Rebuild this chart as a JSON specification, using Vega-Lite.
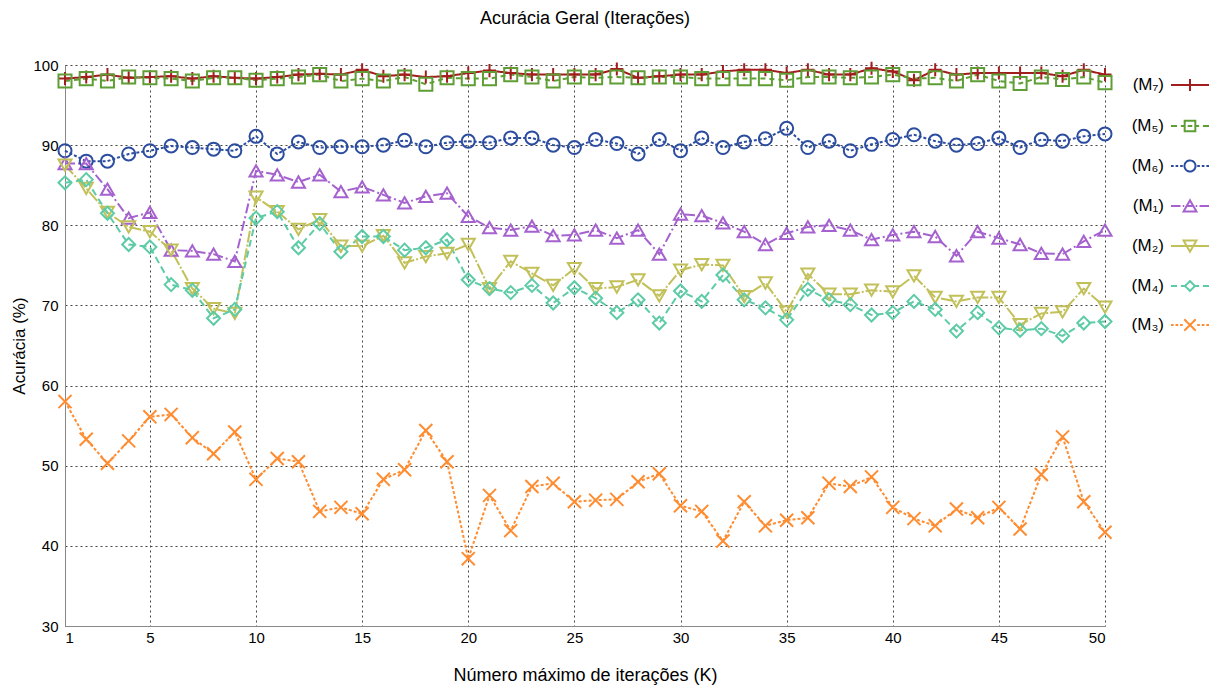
{
  "$schema": "https://vega.github.io/schema/vega-lite/v6.json",
  "width": 1040,
  "height": 561,
  "autosize": {"type": "none"},
  "padding": {"left": 65, "top": 65, "right": 110, "bottom": 60},
  "background": "white",
  "title": {"text": "Acurácia Geral (Iterações)", "font": "Liberation Sans", "fontSize": 18, "fontWeight": "normal", "color": "#000", "offset": 30, "anchor": "middle"},
  "config": {
    "view": {"stroke": null},
    "axis": {"labelFont": "Liberation Sans", "labelFontSize": 15, "labelColor": "#000", "titleFont": "Liberation Sans", "titleFontSize": 18, "titleFontWeight": "normal", "titleColor": "#000", "grid": true, "gridColor": "#444", "gridDash": [2, 3], "gridWidth": 1, "domainColor": "#888", "domainWidth": 1, "ticks": false}
  },
  "data": {"values": [
    {"k":1,"m":"M₇","a":98.3},{"k":2,"m":"M₇","a":98.5},{"k":3,"m":"M₇","a":98.8},{"k":4,"m":"M₇","a":98.4},{"k":5,"m":"M₇","a":98.5},{"k":6,"m":"M₇","a":98.6},{"k":7,"m":"M₇","a":98.3},{"k":8,"m":"M₇","a":98.6},{"k":9,"m":"M₇","a":98.4},{"k":10,"m":"M₇","a":98.3},
    {"k":11,"m":"M₇","a":98.5},{"k":12,"m":"M₇","a":98.8},{"k":13,"m":"M₇","a":98.9},{"k":14,"m":"M₇","a":98.8},{"k":15,"m":"M₇","a":99.4},{"k":16,"m":"M₇","a":98.6},{"k":17,"m":"M₇","a":98.8},{"k":18,"m":"M₇","a":98.5},{"k":19,"m":"M₇","a":98.6},{"k":20,"m":"M₇","a":99.0},
    {"k":21,"m":"M₇","a":99.3},{"k":22,"m":"M₇","a":99.0},{"k":23,"m":"M₇","a":98.8},{"k":24,"m":"M₇","a":98.8},{"k":25,"m":"M₇","a":98.8},{"k":26,"m":"M₇","a":98.8},{"k":27,"m":"M₇","a":99.5},{"k":28,"m":"M₇","a":98.4},{"k":29,"m":"M₇","a":98.6},{"k":30,"m":"M₇","a":98.8},
    {"k":31,"m":"M₇","a":98.8},{"k":32,"m":"M₇","a":99.2},{"k":33,"m":"M₇","a":99.4},{"k":34,"m":"M₇","a":99.4},{"k":35,"m":"M₇","a":99.0},{"k":36,"m":"M₇","a":99.4},{"k":37,"m":"M₇","a":98.8},{"k":38,"m":"M₇","a":98.8},{"k":39,"m":"M₇","a":99.6},{"k":40,"m":"M₇","a":99.2},
    {"k":41,"m":"M₇","a":98.1},{"k":42,"m":"M₇","a":99.4},{"k":43,"m":"M₇","a":98.8},{"k":44,"m":"M₇","a":99.0},{"k":45,"m":"M₇","a":99.0},{"k":46,"m":"M₇","a":99.0},{"k":47,"m":"M₇","a":99.0},{"k":48,"m":"M₇","a":98.6},{"k":49,"m":"M₇","a":99.4},{"k":50,"m":"M₇","a":98.8},
    {"k":1,"m":"M₅","a":98.0},{"k":2,"m":"M₅","a":98.3},{"k":3,"m":"M₅","a":98.0},{"k":4,"m":"M₅","a":98.5},{"k":5,"m":"M₅","a":98.4},{"k":6,"m":"M₅","a":98.3},{"k":7,"m":"M₅","a":98.0},{"k":8,"m":"M₅","a":98.4},{"k":9,"m":"M₅","a":98.4},{"k":10,"m":"M₅","a":98.1},
    {"k":11,"m":"M₅","a":98.3},{"k":12,"m":"M₅","a":98.5},{"k":13,"m":"M₅","a":98.8},{"k":14,"m":"M₅","a":98.0},{"k":15,"m":"M₅","a":98.3},{"k":16,"m":"M₅","a":98.0},{"k":17,"m":"M₅","a":98.5},{"k":18,"m":"M₅","a":97.6},{"k":19,"m":"M₅","a":98.4},{"k":20,"m":"M₅","a":98.3},
    {"k":21,"m":"M₅","a":98.3},{"k":22,"m":"M₅","a":98.8},{"k":23,"m":"M₅","a":98.5},{"k":24,"m":"M₅","a":98.0},{"k":25,"m":"M₅","a":98.5},{"k":26,"m":"M₅","a":98.4},{"k":27,"m":"M₅","a":98.5},{"k":28,"m":"M₅","a":98.4},{"k":29,"m":"M₅","a":98.5},{"k":30,"m":"M₅","a":98.5},
    {"k":31,"m":"M₅","a":98.3},{"k":32,"m":"M₅","a":98.3},{"k":33,"m":"M₅","a":98.3},{"k":34,"m":"M₅","a":98.3},{"k":35,"m":"M₅","a":98.1},{"k":36,"m":"M₅","a":98.5},{"k":37,"m":"M₅","a":98.5},{"k":38,"m":"M₅","a":98.4},{"k":39,"m":"M₅","a":98.5},{"k":40,"m":"M₅","a":98.8},
    {"k":41,"m":"M₅","a":98.3},{"k":42,"m":"M₅","a":98.4},{"k":43,"m":"M₅","a":98.0},{"k":44,"m":"M₅","a":98.8},{"k":45,"m":"M₅","a":98.0},{"k":46,"m":"M₅","a":97.7},{"k":47,"m":"M₅","a":98.5},{"k":48,"m":"M₅","a":98.2},{"k":49,"m":"M₅","a":98.5},{"k":50,"m":"M₅","a":97.8},
    {"k":1,"m":"M₆","a":89.3},{"k":2,"m":"M₆","a":88.0},{"k":3,"m":"M₆","a":88.0},{"k":4,"m":"M₆","a":88.9},{"k":5,"m":"M₆","a":89.3},{"k":6,"m":"M₆","a":89.9},{"k":7,"m":"M₆","a":89.7},{"k":8,"m":"M₆","a":89.5},{"k":9,"m":"M₆","a":89.3},{"k":10,"m":"M₆","a":91.1},
    {"k":11,"m":"M₆","a":88.9},{"k":12,"m":"M₆","a":90.4},{"k":13,"m":"M₆","a":89.7},{"k":14,"m":"M₆","a":89.8},{"k":15,"m":"M₆","a":89.8},{"k":16,"m":"M₆","a":90.0},{"k":17,"m":"M₆","a":90.6},{"k":18,"m":"M₆","a":89.8},{"k":19,"m":"M₆","a":90.3},{"k":20,"m":"M₆","a":90.5},
    {"k":21,"m":"M₆","a":90.3},{"k":22,"m":"M₆","a":90.9},{"k":23,"m":"M₆","a":90.9},{"k":24,"m":"M₆","a":90.0},{"k":25,"m":"M₆","a":89.7},{"k":26,"m":"M₆","a":90.7},{"k":27,"m":"M₆","a":90.2},{"k":28,"m":"M₆","a":88.9},{"k":29,"m":"M₆","a":90.7},{"k":30,"m":"M₆","a":89.3},
    {"k":31,"m":"M₆","a":90.9},{"k":32,"m":"M₆","a":89.7},{"k":33,"m":"M₆","a":90.4},{"k":34,"m":"M₆","a":90.8},{"k":35,"m":"M₆","a":92.1},{"k":36,"m":"M₆","a":89.7},{"k":37,"m":"M₆","a":90.5},{"k":38,"m":"M₆","a":89.3},{"k":39,"m":"M₆","a":90.1},{"k":40,"m":"M₆","a":90.7},
    {"k":41,"m":"M₆","a":91.3},{"k":42,"m":"M₆","a":90.5},{"k":43,"m":"M₆","a":90.0},{"k":44,"m":"M₆","a":90.2},{"k":45,"m":"M₆","a":90.9},{"k":46,"m":"M₆","a":89.7},{"k":47,"m":"M₆","a":90.7},{"k":48,"m":"M₆","a":90.5},{"k":49,"m":"M₆","a":91.1},{"k":50,"m":"M₆","a":91.4},
    {"k":1,"m":"M₁","a":87.7},{"k":2,"m":"M₁","a":87.7},{"k":3,"m":"M₁","a":84.5},{"k":4,"m":"M₁","a":80.9},{"k":5,"m":"M₁","a":81.6},{"k":6,"m":"M₁","a":76.9},{"k":7,"m":"M₁","a":76.8},{"k":8,"m":"M₁","a":76.4},{"k":9,"m":"M₁","a":75.5},{"k":10,"m":"M₁","a":86.8},
    {"k":11,"m":"M₁","a":86.3},{"k":12,"m":"M₁","a":85.4},{"k":13,"m":"M₁","a":86.3},{"k":14,"m":"M₁","a":84.2},{"k":15,"m":"M₁","a":84.8},{"k":16,"m":"M₁","a":83.8},{"k":17,"m":"M₁","a":82.8},{"k":18,"m":"M₁","a":83.6},{"k":19,"m":"M₁","a":84.0},{"k":20,"m":"M₁","a":81.1},
    {"k":21,"m":"M₁","a":79.7},{"k":22,"m":"M₁","a":79.4},{"k":23,"m":"M₁","a":79.9},{"k":24,"m":"M₁","a":78.7},{"k":25,"m":"M₁","a":78.8},{"k":26,"m":"M₁","a":79.4},{"k":27,"m":"M₁","a":78.4},{"k":28,"m":"M₁","a":79.4},{"k":29,"m":"M₁","a":76.4},{"k":30,"m":"M₁","a":81.4},
    {"k":31,"m":"M₁","a":81.2},{"k":32,"m":"M₁","a":80.3},{"k":33,"m":"M₁","a":79.2},{"k":34,"m":"M₁","a":77.6},{"k":35,"m":"M₁","a":79.0},{"k":36,"m":"M₁","a":79.8},{"k":37,"m":"M₁","a":80.0},{"k":38,"m":"M₁","a":79.4},{"k":39,"m":"M₁","a":78.2},{"k":40,"m":"M₁","a":78.8},
    {"k":41,"m":"M₁","a":79.2},{"k":42,"m":"M₁","a":78.6},{"k":43,"m":"M₁","a":76.2},{"k":44,"m":"M₁","a":79.2},{"k":45,"m":"M₁","a":78.4},{"k":46,"m":"M₁","a":77.6},{"k":47,"m":"M₁","a":76.5},{"k":48,"m":"M₁","a":76.4},{"k":49,"m":"M₁","a":78.0},{"k":50,"m":"M₁","a":79.4},
    {"k":1,"m":"M₂","a":87.5},{"k":2,"m":"M₂","a":84.6},{"k":3,"m":"M₂","a":81.6},{"k":4,"m":"M₂","a":79.8},{"k":5,"m":"M₂","a":79.2},{"k":6,"m":"M₂","a":76.9},{"k":7,"m":"M₂","a":72.1},{"k":8,"m":"M₂","a":69.6},{"k":9,"m":"M₂","a":69.0},{"k":10,"m":"M₂","a":83.5},
    {"k":11,"m":"M₂","a":81.7},{"k":12,"m":"M₂","a":79.5},{"k":13,"m":"M₂","a":80.7},{"k":14,"m":"M₂","a":77.4},{"k":15,"m":"M₂","a":77.4},{"k":16,"m":"M₂","a":78.7},{"k":17,"m":"M₂","a":75.3},{"k":18,"m":"M₂","a":76.1},{"k":19,"m":"M₂","a":76.5},{"k":20,"m":"M₂","a":77.6},
    {"k":21,"m":"M₂","a":72.1},{"k":22,"m":"M₂","a":75.5},{"k":23,"m":"M₂","a":74.0},{"k":24,"m":"M₂","a":72.5},{"k":25,"m":"M₂","a":74.6},{"k":26,"m":"M₂","a":72.1},{"k":27,"m":"M₂","a":72.3},{"k":28,"m":"M₂","a":73.2},{"k":29,"m":"M₂","a":71.2},{"k":30,"m":"M₂","a":74.4},
    {"k":31,"m":"M₂","a":75.1},{"k":32,"m":"M₂","a":75.0},{"k":33,"m":"M₂","a":71.1},{"k":34,"m":"M₂","a":72.8},{"k":35,"m":"M₂","a":69.2},{"k":36,"m":"M₂","a":73.9},{"k":37,"m":"M₂","a":71.4},{"k":38,"m":"M₂","a":71.4},{"k":39,"m":"M₂","a":71.9},{"k":40,"m":"M₂","a":71.7},
    {"k":41,"m":"M₂","a":73.7},{"k":42,"m":"M₂","a":71.0},{"k":43,"m":"M₂","a":70.5},{"k":44,"m":"M₂","a":71.0},{"k":45,"m":"M₂","a":71.0},{"k":46,"m":"M₂","a":67.6},{"k":47,"m":"M₂","a":69.0},{"k":48,"m":"M₂","a":69.2},{"k":49,"m":"M₂","a":72.1},{"k":50,"m":"M₂","a":69.8},
    {"k":1,"m":"M₄","a":85.3},{"k":2,"m":"M₄","a":85.7},{"k":3,"m":"M₄","a":81.5},{"k":4,"m":"M₄","a":77.6},{"k":5,"m":"M₄","a":77.3},{"k":6,"m":"M₄","a":72.6},{"k":7,"m":"M₄","a":71.9},{"k":8,"m":"M₄","a":68.4},{"k":9,"m":"M₄","a":69.5},{"k":10,"m":"M₄","a":80.9},
    {"k":11,"m":"M₄","a":81.7},{"k":12,"m":"M₄","a":77.2},{"k":13,"m":"M₄","a":80.2},{"k":14,"m":"M₄","a":76.7},{"k":15,"m":"M₄","a":78.6},{"k":16,"m":"M₄","a":78.6},{"k":17,"m":"M₄","a":76.9},{"k":18,"m":"M₄","a":77.2},{"k":19,"m":"M₄","a":78.2},{"k":20,"m":"M₄","a":73.2},
    {"k":21,"m":"M₄","a":72.1},{"k":22,"m":"M₄","a":71.6},{"k":23,"m":"M₄","a":72.5},{"k":24,"m":"M₄","a":70.3},{"k":25,"m":"M₄","a":72.2},{"k":26,"m":"M₄","a":70.9},{"k":27,"m":"M₄","a":69.1},{"k":28,"m":"M₄","a":70.7},{"k":29,"m":"M₄","a":67.8},{"k":30,"m":"M₄","a":71.8},
    {"k":31,"m":"M₄","a":70.5},{"k":32,"m":"M₄","a":73.8},{"k":33,"m":"M₄","a":70.7},{"k":34,"m":"M₄","a":69.7},{"k":35,"m":"M₄","a":68.2},{"k":36,"m":"M₄","a":72.0},{"k":37,"m":"M₄","a":70.7},{"k":38,"m":"M₄","a":70.1},{"k":39,"m":"M₄","a":68.8},{"k":40,"m":"M₄","a":69.1},
    {"k":41,"m":"M₄","a":70.5},{"k":42,"m":"M₄","a":69.5},{"k":43,"m":"M₄","a":66.8},{"k":44,"m":"M₄","a":69.1},{"k":45,"m":"M₄","a":67.2},{"k":46,"m":"M₄","a":66.9},{"k":47,"m":"M₄","a":67.1},{"k":48,"m":"M₄","a":66.2},{"k":49,"m":"M₄","a":67.8},{"k":50,"m":"M₄","a":68.0},
    {"k":1,"m":"M₃","a":58.0},{"k":2,"m":"M₃","a":53.3},{"k":3,"m":"M₃","a":50.3},{"k":4,"m":"M₃","a":53.1},{"k":5,"m":"M₃","a":56.1},{"k":6,"m":"M₃","a":56.4},{"k":7,"m":"M₃","a":53.5},{"k":8,"m":"M₃","a":51.5},{"k":9,"m":"M₃","a":54.2},{"k":10,"m":"M₃","a":48.3},
    {"k":11,"m":"M₃","a":50.9},{"k":12,"m":"M₃","a":50.5},{"k":13,"m":"M₃","a":44.3},{"k":14,"m":"M₃","a":44.8},{"k":15,"m":"M₃","a":44.0},{"k":16,"m":"M₃","a":48.3},{"k":17,"m":"M₃","a":49.5},{"k":18,"m":"M₃","a":54.4},{"k":19,"m":"M₃","a":50.5},{"k":20,"m":"M₃","a":38.4},
    {"k":21,"m":"M₃","a":46.3},{"k":22,"m":"M₃","a":41.9},{"k":23,"m":"M₃","a":47.4},{"k":24,"m":"M₃","a":47.8},{"k":25,"m":"M₃","a":45.5},{"k":26,"m":"M₃","a":45.7},{"k":27,"m":"M₃","a":45.8},{"k":28,"m":"M₃","a":48.0},{"k":29,"m":"M₃","a":49.0},{"k":30,"m":"M₃","a":45.0},
    {"k":31,"m":"M₃","a":44.3},{"k":32,"m":"M₃","a":40.6},{"k":33,"m":"M₃","a":45.5},{"k":34,"m":"M₃","a":42.5},{"k":35,"m":"M₃","a":43.2},{"k":36,"m":"M₃","a":43.5},{"k":37,"m":"M₃","a":47.8},{"k":38,"m":"M₃","a":47.4},{"k":39,"m":"M₃","a":48.6},{"k":40,"m":"M₃","a":44.8},
    {"k":41,"m":"M₃","a":43.4},{"k":42,"m":"M₃","a":42.5},{"k":43,"m":"M₃","a":44.6},{"k":44,"m":"M₃","a":43.5},{"k":45,"m":"M₃","a":44.8},{"k":46,"m":"M₃","a":42.1},{"k":47,"m":"M₃","a":48.9},{"k":48,"m":"M₃","a":53.6},{"k":49,"m":"M₃","a":45.5},{"k":50,"m":"M₃","a":41.7}
  ]},
  "encoding": {
    "x": {"field": "k", "type": "quantitative", "scale": {"domain": [1, 50], "nice": false, "zero": false},
          "axis": {"values": [1, 5, 10, 15, 20, 25, 30, 35, 40, 45, 50], "title": "Número máximo de iterações (K)", "labelPadding": 4, "titlePadding": 21}},
    "y": {"field": "a", "type": "quantitative", "scale": {"domain": [30, 100], "nice": false, "zero": false},
          "axis": {"values": [30, 40, 50, 60, 70, 80, 90, 100], "title": "Acurácia (%)", "labelPadding": 7, "titlePadding": 4, "titleFontSize": 17}},
    "color": {"field": "m", "type": "nominal", "scale": {"domain": ["M₇","M₅","M₆","M₁","M₂","M₄","M₃"], "range": ["#a21d1d","#5e9e34","#2c4d9f","#a562cf","#c2c059","#5ecba7","#ff8c30"]},
      "legend": {
        "orient": "none", "legendX": 1105, "legendY": 0, "direction": "vertical", "title": null,
        "labelAlign": "right", "labelOffset": -46, "labelFont": "Liberation Sans", "labelFontSize": 17, "labelColor": "#000",
        "labelExpr": "'(' + datum.label + ')'", "symbolStrokeWidth": 2, "rowPadding": 10, "padding": 0, "symbolSize": 1444,
        "symbolFillColor": "transparent",
        "encode": {"symbols": {"update": {
          "shape": {"signal": "['M-1,0H1M0,-0.32V0.32', 'M-1,0H-0.68M-0.48,0H-0.28M0.28,0H0.48M0.68,0H1M-0.28,-0.28H0.28V0.28H-0.28ZM-0.12,0H0.12', 'M-1,0H-0.86M-0.76,0H-0.62M-0.52,0H-0.38M0.38,0H0.52M0.62,0H0.76M0.86,0H1M0.29,0A0.29,0.29 0 1 1 -0.29,0A0.29,0.29 0 1 1 0.29,0', 'M-1,0H-0.5M-0.38,0H-0.3M-0.18,0H0.18M0.3,0H0.38M0.5,0H1M0,-0.3L0.34,0.29H-0.34Z', 'M-1,0H1M0,0.3L0.34,-0.29H-0.34Z', 'M-1,0H-0.68M-0.48,0H-0.26M0.26,0H0.48M0.68,0H1M0,-0.26L0.26,0L0,0.26L-0.26,0Z', 'M-1,0H-0.86M-0.76,0H-0.62M-0.52,0H-0.38M0.38,0H0.52M0.62,0H0.76M0.86,0H1M-0.3,-0.3L0.3,0.3M0.3,-0.3L-0.3,0.3'][indexof(['M₇','M₅','M₆','M₁','M₂','M₄','M₃'], datum.value)]"},
          "size": {"value": 1444},
          "fill": {"value": "transparent"},
          "strokeDash": {"value": [1, 0]},
          "stroke": {"scale": "color", "field": "value"},
          "strokeWidth": {"value": 2}
        }}}
      }}
  },
  "layer": [
    {
      "mark": {"type": "line", "strokeWidth": 2},
      "encoding": {
        "strokeDash": {"field": "m", "type": "nominal", "scale": {"domain": ["M₁","M₂","M₃","M₄","M₅","M₆","M₇"], "range": [[10,3,2,3],[12,2,2,2],[3,2],[7,4],[5,4],[3,2],[1,0]]}, "legend": null}
      }
    },
    {
      "mark": {"type": "point", "filled": false, "strokeWidth": 2, "opacity": 1},
      "encoding": {
        "shape": {"field": "m", "type": "nominal", "scale": {"domain": ["M₁","M₂","M₃","M₄","M₅","M₆","M₇"], "range": ["triangle-up","triangle-down","M-1,-1L1,1M1,-1L-1,1","diamond","square","circle","M-1,0H1M0,-1V1"]}, "legend": null},
        "size": {"field": "m", "type": "nominal", "scale": {"domain": ["M₁","M₂","M₃","M₄","M₅","M₆","M₇"], "range": [170,170,140,95,110,115,150]}, "legend": null}
      }
    }
  ]
}
